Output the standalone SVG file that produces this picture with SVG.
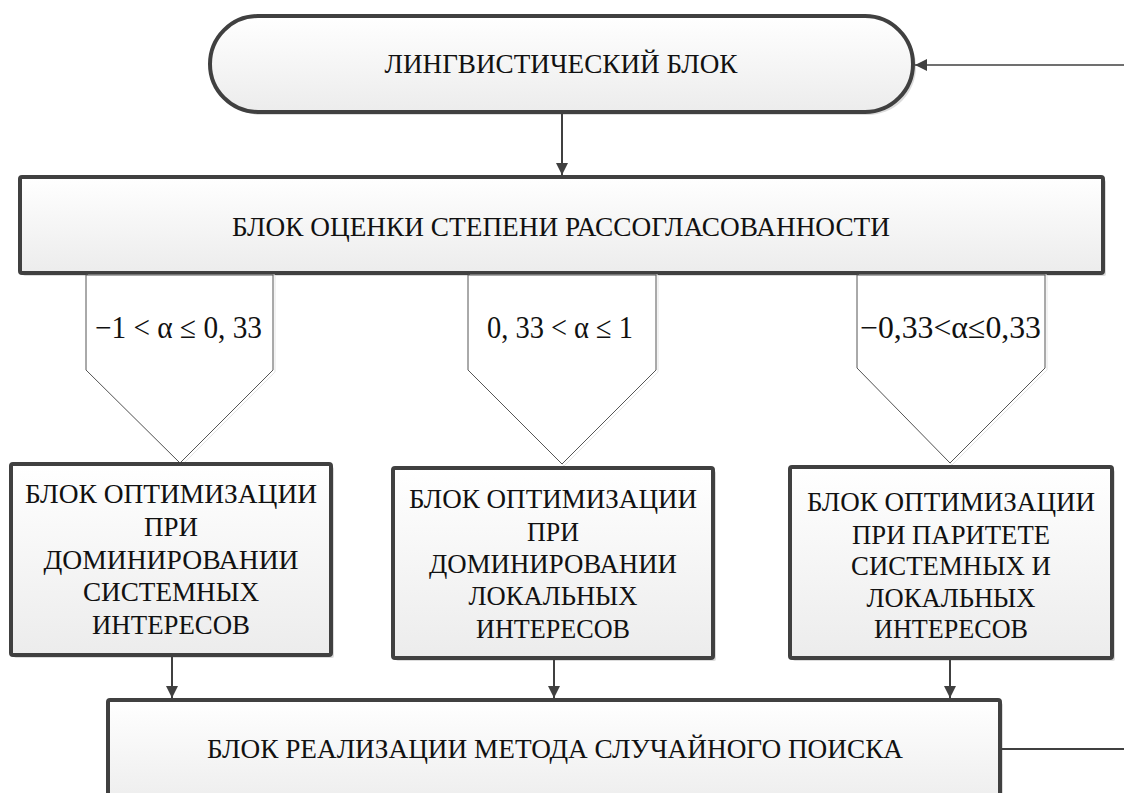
<svg xmlns="http://www.w3.org/2000/svg" width="1124" height="793" viewBox="0 0 1124 793">
<defs>
<linearGradient id="g" x1="0" y1="0" x2="0" y2="1">
<stop offset="0" stop-color="#ffffff"/>
<stop offset="1" stop-color="#ececec"/>
</linearGradient>
<marker id="ah" viewBox="0 0 12 12" refX="12" refY="6" markerWidth="12" markerHeight="12" markerUnits="userSpaceOnUse" orient="auto">
<path d="M0,0 L12,6 L0,12 Z" fill="#404040"/>
</marker>
</defs>
<style>
.box{fill:url(#g);stroke:#404040;stroke-width:4}
.sh{fill:#dcdcdc}
.pent{fill:#ffffff;stroke:#555555;stroke-width:1}
.psh{fill:none;stroke:#e6e6e6;stroke-width:1}
text{font-family:'Liberation Serif','Times New Roman',serif;fill:#111111}
.t{font-size:27px;text-anchor:middle}
.b{font-size:28px;text-anchor:middle}
.eq{font-size:31px}
.c{fill:none;stroke:#404040;stroke-width:2}
.ct{fill:none;stroke:#404040;stroke-width:1.5}
</style>
<rect width="1124" height="793" fill="#ffffff"/>

<g id="n-ling">
<rect class="sh" x="213" y="19" width="703" height="96" rx="48"/>
<rect class="box" x="210" y="16" width="703" height="96" rx="48"/>
<text class="t" x="561" y="73" textLength="353" lengthAdjust="spacingAndGlyphs">ЛИНГВИСТИЧЕСКИЙ БЛОК</text>
</g>

<g id="n-eval">
<rect class="sh" x="23" y="180" width="1083" height="96" rx="2"/>
<rect class="box" x="20" y="177" width="1083" height="96" rx="2"/>
<text class="t" x="561" y="236" textLength="658" lengthAdjust="spacingAndGlyphs">БЛОК ОЦЕНКИ СТЕПЕНИ РАССОГЛАСОВАННОСТИ</text>
</g>

<g id="c-1">
<polygon class="psh" points="88,275 275,275 275,372 182,465 88,372"/>
<polygon class="pent" points="86,275 273,275 273,370 180,463 86,370"/>
<text class="eq" x="95" y="338" textLength="167" lengthAdjust="spacingAndGlyphs">−1 &lt; α ≤ 0, 33</text>
</g>
<g id="c-2">
<polygon class="psh" points="470,275 658,275 658,372 564,466 470,372"/>
<polygon class="pent" points="468,275 656,275 656,370 562,464 468,370"/>
<text class="eq" x="487" y="338" textLength="146" lengthAdjust="spacingAndGlyphs">0, 33 &lt; α ≤ 1</text>
</g>
<g id="c-3">
<polygon class="psh" points="859,275 1047,275 1047,370 952,465 859,370"/>
<polygon class="pent" points="857,275 1045,275 1045,368 950,463 857,368"/>
<text class="eq" x="860" y="338" textLength="181" lengthAdjust="spacingAndGlyphs">−0,33&lt;α≤0,33</text>
</g>

<g id="n-sys">
<rect class="sh" x="14" y="467" width="320" height="191" rx="2"/>
<rect class="box" x="11" y="464" width="320" height="191" rx="2"/>
<text class="b" x="171" y="503" textLength="292" lengthAdjust="spacingAndGlyphs">БЛОК ОПТИМИЗАЦИИ</text>
<text class="b" x="171" y="536" textLength="54" lengthAdjust="spacingAndGlyphs">ПРИ</text>
<text class="b" x="171" y="569" textLength="255" lengthAdjust="spacingAndGlyphs">ДОМИНИРОВАНИИ</text>
<text class="b" x="171" y="601" textLength="176" lengthAdjust="spacingAndGlyphs">СИСТЕМНЫХ</text>
<text class="b" x="171" y="634" textLength="158" lengthAdjust="spacingAndGlyphs">ИНТЕРЕСОВ</text>
</g>

<g id="n-loc">
<rect class="sh" x="396" y="471" width="320" height="190" rx="2"/>
<rect class="box" x="393" y="468" width="320" height="190" rx="2"/>
<text class="b" x="553" y="508" textLength="288" lengthAdjust="spacingAndGlyphs">БЛОК ОПТИМИЗАЦИИ</text>
<text class="b" x="553" y="541" textLength="52" lengthAdjust="spacingAndGlyphs">ПРИ</text>
<text class="b" x="553" y="573" textLength="248" lengthAdjust="spacingAndGlyphs">ДОМИНИРОВАНИИ</text>
<text class="b" x="553" y="605" textLength="169" lengthAdjust="spacingAndGlyphs">ЛОКАЛЬНЫХ</text>
<text class="b" x="553" y="638" textLength="154" lengthAdjust="spacingAndGlyphs">ИНТЕРЕСОВ</text>
</g>

<g id="n-par">
<rect class="sh" x="793" y="470" width="322" height="191" rx="2"/>
<rect class="box" x="790" y="467" width="322" height="191" rx="2"/>
<text class="b" x="951" y="511" textLength="288" lengthAdjust="spacingAndGlyphs">БЛОК ОПТИМИЗАЦИИ</text>
<text class="b" x="951" y="544" textLength="198" lengthAdjust="spacingAndGlyphs">ПРИ ПАРИТЕТЕ</text>
<text class="b" x="951" y="575" textLength="200" lengthAdjust="spacingAndGlyphs">СИСТЕМНЫХ И</text>
<text class="b" x="951" y="607" textLength="169" lengthAdjust="spacingAndGlyphs">ЛОКАЛЬНЫХ</text>
<text class="b" x="951" y="638" textLength="154" lengthAdjust="spacingAndGlyphs">ИНТЕРЕСОВ</text>
</g>

<g id="n-rand">
<rect class="sh" x="111" y="703" width="892" height="110" rx="2"/>
<rect class="box" x="108" y="700" width="892" height="110" rx="2"/>
<text class="t" x="555" y="758" textLength="696" lengthAdjust="spacingAndGlyphs">БЛОК РЕАЛИЗАЦИИ МЕТОДА СЛУЧАЙНОГО ПОИСКА</text>
</g>

<g id="connectors">
<line class="ct" x1="1124" y1="65" x2="915" y2="65" marker-end="url(#ah)"/>
<line class="c" x1="562" y1="114" x2="562" y2="175" marker-end="url(#ah)"/>
<line class="c" x1="172" y1="657" x2="172" y2="698" marker-end="url(#ah)"/>
<line class="c" x1="554" y1="660" x2="554" y2="698" marker-end="url(#ah)"/>
<line class="c" x1="950" y1="660" x2="950" y2="698" marker-end="url(#ah)"/>
<line class="c" x1="1002" y1="749" x2="1124" y2="749"/>
</g>
</svg>
